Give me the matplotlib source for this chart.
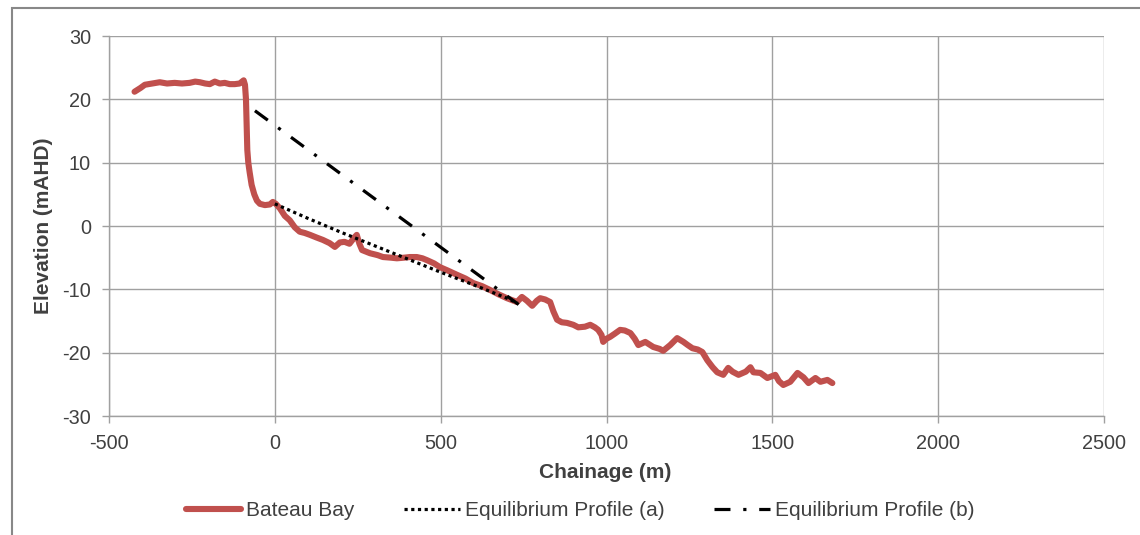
import numpy as np
import matplotlib
matplotlib.use("Agg")
import matplotlib.pyplot as plt
from matplotlib.patches import Rectangle

plt.rcParams['font.family'] = ['Liberation Sans', 'DejaVu Sans']
plt.rcParams['axes.unicode_minus'] = False

# Bateau Bay measured profile (chainage m, elevation mAHD)
bateau_x = [-423, -405, -392, -370, -347, -325, -302, -280, -257, -240, -226, -210,
            -196, -181, -166, -151, -136, -121, -106, -94, -90, -87, -85, -83, -80,
            -76, -70, -62, -54, -45, -30, -15, -6, 3, 15, 30, 45, 60, 75, 90, 106,
            125, 145, 165, 181, 196, 210, 225, 240, 247, 255, 263, 287, 310, 326,
            350, 368, 390, 407, 428, 445, 459, 480, 498, 520, 549, 575, 598, 625,
            649, 675, 700, 720, 730, 745, 760, 776, 790, 800, 815, 830, 840, 851,
            865, 881, 900, 915, 935, 951, 965, 975, 985, 990, 1000, 1011, 1025,
            1041, 1055, 1072, 1085, 1096, 1117, 1141, 1160, 1171, 1192, 1213, 1232,
            1245, 1259, 1275, 1289, 1304, 1320, 1334, 1352, 1367, 1380, 1398, 1420,
            1434, 1443, 1464, 1485, 1509, 1520, 1533, 1554, 1576, 1594, 1609, 1630,
            1645, 1666, 1681]
bateau_y = [21.2, 21.8, 22.3, 22.5, 22.7, 22.5, 22.6, 22.5, 22.6, 22.8, 22.7, 22.5,
            22.4, 22.8, 22.5, 22.6, 22.4, 22.4, 22.5, 23.0, 22.3, 20.0, 16.0, 12.0, 10.0,
            8.5, 6.5, 5.0, 4.0, 3.5, 3.3, 3.4, 3.8, 3.5, 2.8, 1.6, 0.9, -0.2, -0.9, -1.1, -1.4,
            -1.8, -2.2, -2.7, -3.3, -2.6, -2.5, -2.8, -1.8, -1.4, -2.8, -3.8, -4.3, -4.6, -4.9,
            -5.0, -5.1, -5.0, -4.9, -4.9, -5.1, -5.4, -5.9, -6.5, -7.0, -7.7, -8.3, -9.0, -9.5,
            -10.1, -10.8, -11.4, -11.8, -12.0, -11.2, -11.8, -12.6, -11.8, -11.4, -11.6, -12.0, -13.5, -14.8,
            -15.2, -15.3, -15.6, -16.0, -15.9, -15.6, -16.0, -16.4, -17.2, -18.3, -17.8, -17.5, -17.0,
            -16.4, -16.5, -16.9, -17.8, -18.8, -18.3, -19.1, -19.4, -19.7, -18.8, -17.7, -18.3,
            -18.8, -19.3, -19.5, -19.9, -21.2, -22.3, -23.1, -23.5, -22.4, -23.0, -23.5, -23.0,
            -22.3, -23.1, -23.2, -24.0, -23.5, -24.5, -25.1, -24.6, -23.2, -23.9, -24.8, -24.0,
            -24.6, -24.3, -24.8]

# equilibrium profiles
eq_a_x = [0, 100, 200, 300, 400, 500, 600, 700, 732]
eq_a_y = [3.5, 1.2, -1.0, -3.1, -5.2, -7.3, -9.3, -11.4, -12.2]
eq_b_x = [-60, 735]
eq_b_y = [18.2, -12.4]

xticks = [-500, 0, 500, 1000, 1500, 2000, 2500]
yticks = [-30, -20, -10, 0, 10, 20, 30]

txt = '#404040'
fs_tick = 14.3
fs = 15

fig = plt.figure(figsize=(11.4, 5.35), dpi=100)
ax = fig.add_axes([109/1140, 1-416/535, (1104-109)/1140, (416-36)/535])

ax.plot(bateau_x, bateau_y, color='#C0504D', lw=4.4, solid_capstyle='round',
        solid_joinstyle='round', label='Bateau Bay', zorder=3)
ax.plot(eq_a_x, eq_a_y, color='black', lw=2.3, linestyle=(0, (1, 1.1)),
        dash_capstyle='butt', label='Equilibrium Profile (a)', zorder=4)
ax.plot(eq_b_x, eq_b_y, color='black', lw=2.3, linestyle=(0, (5, 4, 1, 4)),
        dash_capstyle='butt', label='Equilibrium Profile (b)', zorder=4)

ax.set_xlim(-500, 2500)
ax.set_ylim(-30, 30)
ax.set_xticks(xticks)
ax.set_yticks(yticks)
ax.grid(True, color='#A0A0A0', lw=1)
ax.set_axisbelow(True)
for s in ['top', 'right']:
    ax.spines[s].set_visible(False)
for s in ['left', 'bottom']:
    ax.spines[s].set_color('#A0A0A0')
    ax.spines[s].set_linewidth(1)
ax.tick_params(direction='out', length=5, width=1, color='#A0A0A0',
               labelcolor=txt, labelsize=fs_tick)
ax.tick_params(axis='y', pad=8)
ax.tick_params(axis='x', pad=8)

ax.set_xlabel('Chainage (m)', fontsize=fs, fontweight='bold', color=txt)
ax.set_ylabel('Elevation (mAHD)', fontsize=fs, fontweight='bold', color=txt)
ax.xaxis.set_label_coords((605 - 109) / 995, (416 - 463) / 380)
ax.yaxis.set_label_coords((53 - 109) / 995, 0.5)

fig.legend(loc='center', bbox_to_anchor=(580/1140, 1-511/535), ncol=3, frameon=False,
           fontsize=fs, handlelength=2.65, handletextpad=0.25, columnspacing=2.4,
           labelcolor=txt)

# outer chart frame
fig.patches.append(Rectangle((12/1140, -0.1), 1.2, 1-8/535+0.1, transform=fig.transFigure,
                             fill=False, edgecolor='#888888', lw=1.5))

fig.savefig('out.png', dpi=100)
